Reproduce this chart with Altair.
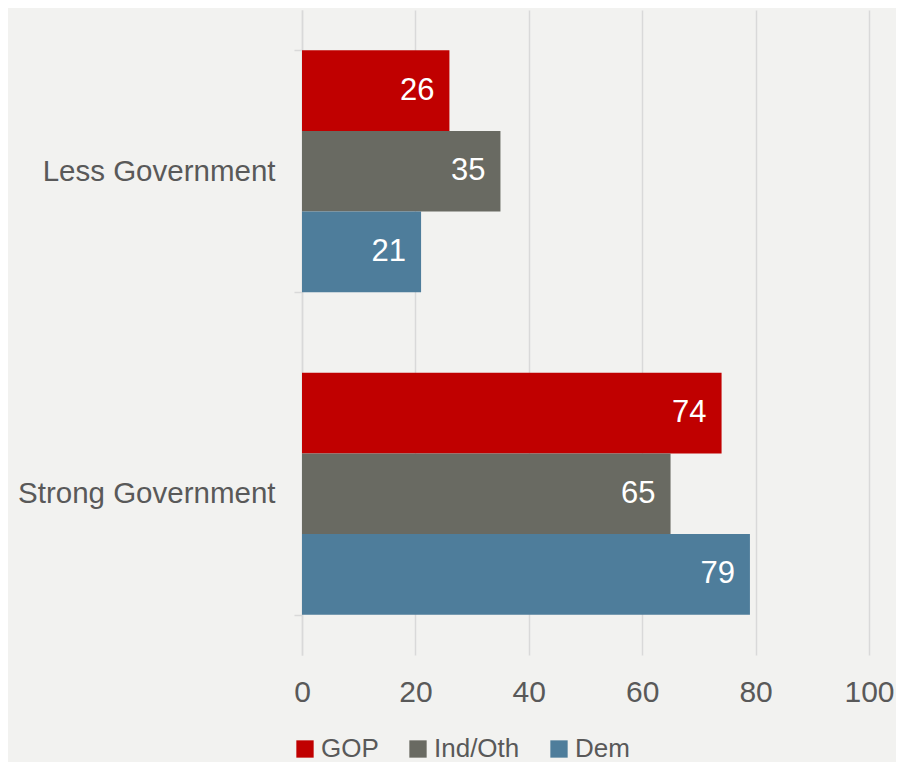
import altair as alt
import pandas as pd

categories = ["Less Government", "Strong Government"]
parties = ["GOP", "Ind/Oth", "Dem"]
gop = [26, 74]
ind = [35, 65]
dem = [21, 79]
colors = ["#c00000", "#696a62", "#4e7d9b"]

rows = []
for i, c in enumerate(categories):
    for p, vals in zip(parties, [gop, ind, dem]):
        rows.append({"cat": c, "party": p, "value": vals[i]})
df = pd.DataFrame(rows)

FONT = "Liberation Sans"
TXT = "#595959"

y = alt.Y("cat:N", sort=categories, title=None,
          scale=alt.Scale(paddingInner=0.25, paddingOuter=0.125),
          axis=alt.Axis(tickBand="extent", ticks=True, tickSize=8, tickColor="#d9d9d9",
                        tickWidth=1.5, domainColor="#d9d9d9", domainWidth=1.5,
                        labelFontSize=29.5, labelColor=TXT, labelFont=FONT,
                        labelLimit=400, labelPadding=19, grid=False))
x = alt.X("value:Q", title=None,
          scale=alt.Scale(domain=[0, 100], nice=False),
          axis=alt.Axis(values=[0, 20, 40, 60, 80, 100], tickSize=0, domain=False,
                        gridColor="#d9d9d9", gridWidth=1.5, labelFlush=False,
                        labelFontSize=30, labelColor=TXT, labelFont=FONT,
                        labelPadding=22))
yoff = alt.YOffset("party:N", sort=parties)

bars = alt.Chart(df).mark_bar(cornerRadius=0).encode(
    x=x, y=y, yOffset=yoff,
    color=alt.Color("party:N", sort=parties,
                    scale=alt.Scale(domain=parties, range=colors),
                    legend=alt.Legend(title=None, orient="none", direction="horizontal",
                                      legendX=-10, legendY=726,
                                      symbolType="square", symbolSize=300,
                                      symbolStrokeWidth=0, symbolOpacity=1,
                                      labelFontSize=26, labelColor=TXT, labelFont=FONT,
                                      labelOffset=3, columnPadding=26)),
)

labels = alt.Chart(df).mark_text(align="right", baseline="middle", dx=-15,
                                  fontSize=31, color="white", font=FONT).encode(
    x="value:Q", y=alt.Y("cat:N", sort=categories), yOffset=yoff,
    text="value:Q")

chart = alt.layer(bars, labels).properties(
    width=567, height=645,
    background="#f2f2f0",
    autosize=alt.AutoSizeParams(type="none"),
    padding={"left": 294, "top": 2, "right": 27, "bottom": 107},
).configure_view(stroke=None)

chart.save("out.html", embed_options={"renderer": "svg", "actions": False})
